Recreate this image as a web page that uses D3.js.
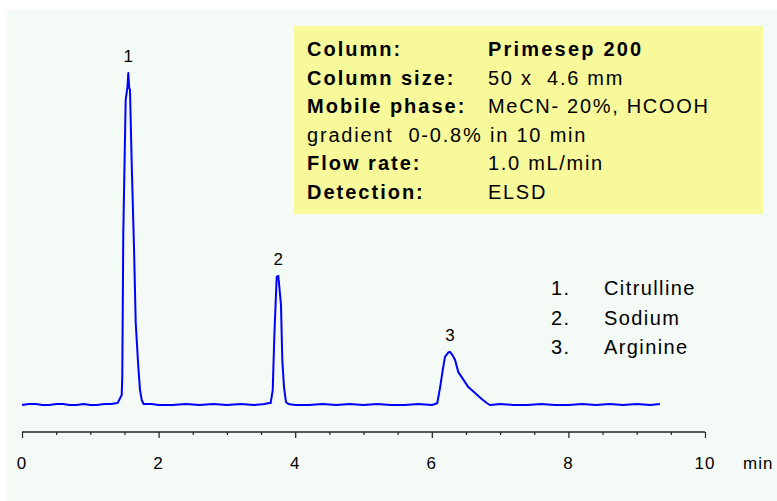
<!DOCTYPE html>
<html>
<head>
<meta charset="utf-8">
<script src="https://cdn.jsdelivr.net/npm/d3@7"></script>
<style>
  html, body { margin: 0; padding: 0; background: #ffffff; }
  svg { display: block; }
  text { font-family: "Liberation Sans", Arial, sans-serif; fill: #000; white-space: pre; }
</style>
</head>
<body>
<svg id="chart" width="777" height="501"></svg>
<script>
// ---- Data ----
const times = [
  0.00, 0.10, 0.20, 0.30, 0.40, 0.50, 0.60, 0.70, 0.80, 0.90, 1.00, 1.10, 1.20, 1.30, 1.40,
  1.46, 1.468, 1.483, 1.518, 1.545, 1.556, 1.57, 1.581, 1.606, 1.64, 1.665, 1.703, 1.728, 1.753, 1.78,
  1.90, 2.00, 2.20, 2.40, 2.60, 2.80, 3.00, 3.20, 3.40, 3.55, 3.62,
  3.641, 3.671, 3.694, 3.729, 3.753, 3.792, 3.811, 3.836, 3.865, 3.90,
  4.00, 4.20, 4.40, 4.60, 4.80, 5.00, 5.20, 5.40, 5.60, 5.80, 6.00, 6.05,
  6.080, 6.120, 6.160, 6.193, 6.240, 6.266, 6.300, 6.340, 6.388, 6.438, 6.535, 6.633, 6.731, 6.804, 6.85,
  7.00, 7.20, 7.40, 7.60, 7.80, 8.00, 8.20, 8.40, 8.60, 8.80, 9.00, 9.20, 9.34
];
const signal = [
  0.0, 0.3, 0.3, 0.0, 0.0, 0.3, 0.3, 0.0, 0.0, 0.3, 0.0, 0.0, 0.3, 0.3, 0.6,
  3.0, 8.4, 51.8, 91.9, 96.0, 100.0, 95.5, 94.9, 72.9, 47.3, 24.7, 11.4, 4.5, 1.5, 0.3,
  0.3, 0.0, 0.0, 0.3, 0.0, 0.3, 0.0, 0.3, 0.0, 0.3, 0.6,
  0.6, 4.5, 20.5, 38.6, 38.9, 30.1, 13.6, 5.4, 0.9, 0.3,
  0.0, 0.0, 0.3, 0.0, 0.3, 0.0, 0.3, 0.0, 0.0, 0.3, 0.0, 0.3,
  0.6, 5.1, 10.5, 14.5, 15.8, 16.0, 15.1, 13.6, 9.9, 8.4, 5.4, 3.6, 1.8, 0.6, 0.0,
  0.3, 0.0, 0.0, 0.3, 0.0, 0.0, 0.3, 0.0, 0.3, 0.0, 0.3, 0.0, 0.3
];
const xTicks = [0, 0.5, 1, 1.5, 2, 2.5, 3, 3.5, 4, 4.5, 5, 5.5, 6, 6.5, 7, 7.5, 8, 8.5, 9, 9.5, 10];
const xTickLabels = [0, 2, 4, 6, 8, 10];
const xUnit = "min";
const peakTimes = [1.556, 3.753, 6.266];
const peakHeights = [100.0, 38.9, 16.0];
const peakLabels = ["1", "2", "3"];
const compoundNumbers = ["1.", "2.", "3."];
const compoundNames = ["Citrulline", "Sodium", "Arginine"];
const infoLabels = ["Column:", "Column size:", "Mobile phase:", "gradient  0-0.8% in 10 min", "Flow rate:", "Detection:"];
const infoValues = ["Primesep 200", "50 x  4.6 mm", "MeCN- 20%, HCOOH", "", "1.0 mL/min", "ELSD"];
const infoBold = [true, true, true, false, true, true];

// ---- Drawing ----
const svg = d3.select("#chart");

svg.append("rect").attr("x", 7).attr("y", 10).attr("width", 770).attr("height", 491)
  .attr("fill", "#f4faf6");

const x = d3.scaleLinear().domain([0, 10]).range([22, 705]);
const y = d3.scaleLinear().domain([0, 100]).range([405, 73]);

// info box
const box = svg.append("g");
box.append("rect").attr("x", 294).attr("y", 26).attr("width", 469).attr("height", 188)
  .attr("fill", "#f7f99a");
infoLabels.forEach((lab, i) => {
  const by = 56 + i * 28.5;
  box.append("text").attr("x", 307).attr("y", by)
    .attr("font-size", 20).attr("font-weight", infoBold[i] ? "bold" : "normal")
    .attr("letter-spacing", infoBold[i] ? 2.0 : 1.8)
    .text(lab);
  if (infoValues[i]) {
    box.append("text").attr("x", 488).attr("y", by)
      .attr("font-size", 20).attr("font-weight", i === 0 ? "bold" : "normal")
      .attr("letter-spacing", i === 0 ? 2.2 : 1.7)
      .text(infoValues[i]);
  }
});

// legend
compoundNames.forEach((name, i) => {
  const by = 295 + i * 29.5;
  svg.append("text").attr("x", 551).attr("y", by).attr("font-size", 20)
    .attr("letter-spacing", 1.4).text(compoundNumbers[i]);
  svg.append("text").attr("x", 604).attr("y", by).attr("font-size", 20)
    .attr("letter-spacing", 1.4).text(name);
});

// axis
const axisG = svg.append("g").attr("transform", "translate(0,432)");
const axis = d3.axisBottom(x).tickValues(xTicks)
  .tickSize(0).tickFormat("");
axisG.call(axis);
axisG.select(".domain").attr("stroke", "#222").attr("stroke-width", 1.6)
  .attr("d", `M${x(0)},0H${x(10)}`);
axisG.selectAll(".tick line").remove();
axisG.selectAll(".tick").append("line")
  .attr("y1", 0)
  .attr("y2", d => (xTickLabels.includes(d) ? 6 : 3))
  .attr("stroke", "#222").attr("stroke-width", 1.2);
xTickLabels.forEach(v => {
  svg.append("text").attr("x", x(v)).attr("y", 469).attr("text-anchor", "middle")
    .attr("font-size", 17).attr("letter-spacing", 1).text(v);
});
svg.append("text").attr("x", 743).attr("y", 469).attr("font-size", 17)
  .attr("letter-spacing", 1).text(xUnit);

// trace
const pts = times.map((t, i) => [t, signal[i]]);
const line = d3.line().x(d => x(d[0])).y(d => y(d[1])).curve(d3.curveLinear);
svg.append("path").datum(pts).attr("d", line)
  .attr("fill", "none").attr("stroke", "#0000ff").attr("stroke-width", 2)
  .attr("stroke-linejoin", "round");

// peak labels
peakLabels.forEach((lab, i) => {
  svg.append("text").attr("x", x(peakTimes[i])).attr("y", y(peakHeights[i]) - 11)
    .attr("text-anchor", "middle").attr("font-size", 17).text(lab);
});
</script>
</body>
</html>
